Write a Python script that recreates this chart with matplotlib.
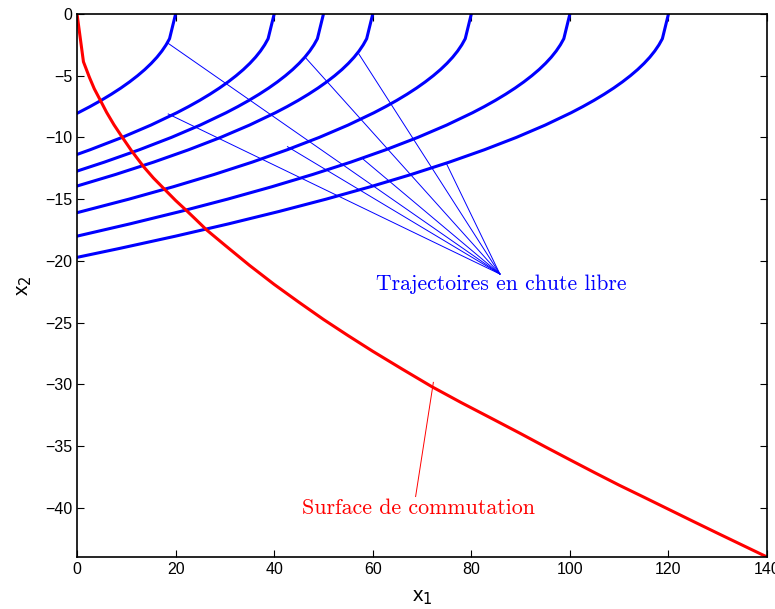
"""Free-fall trajectories and the switching surface in the (x1, x2) phase plane."""
import matplotlib
matplotlib.use("Agg")
import matplotlib.pyplot as plt

# --- Data ---
# free-fall trajectories, one per starting height x1 (x2 = 0 at the top)
x2_steps = [0, -2, -2.5, -3, -3.5, -4, -4.5, -5, -5.5, -6, -6.5, -7, -7.5, -8, -9, -10,
            -11, -12, -13, -14, -15, -16, -17, -18, -19]

traj_x1 = {
    20: [20, 18.77, 18.07, 17.22, 16.22, 15.06, 13.75, 12.28, 10.66, 8.89, 6.96, 4.88,
         2.64, 0],
    40: [40, 38.77, 38.07, 37.22, 36.22, 35.06, 33.75, 32.28, 30.66, 28.89, 26.96, 24.88,
         22.64, 20.25, 15.0, 9.14, 2.65, 0],
    50: [50, 48.77, 48.07, 47.22, 46.22, 45.06, 43.75, 42.28, 40.66, 38.89, 36.96, 34.88,
         32.64, 30.25, 25.0, 19.14, 12.65, 5.56, 0],
    60: [60, 58.77, 58.07, 57.22, 56.22, 55.06, 53.75, 52.28, 50.66, 48.89, 46.96, 44.88,
         42.64, 40.25, 35.0, 29.14, 22.65, 15.56, 7.84, 0],
    80: [80, 78.77, 78.07, 77.22, 76.22, 75.06, 73.75, 72.28, 70.66, 68.89, 66.96, 64.88,
         62.64, 60.25, 55.0, 49.14, 42.65, 35.56, 27.84, 19.51, 10.56, 0],
    100: [100, 98.77, 98.07, 97.22, 96.22, 95.06, 93.75, 92.28, 90.66, 88.89, 86.96, 84.88,
          82.64, 80.25, 75.0, 69.14, 62.65, 55.56, 47.84, 39.51, 30.56, 20.99, 10.8, 0],
    120: [120, 118.77, 118.07, 117.22, 116.22, 115.06, 113.75, 112.28, 110.66, 108.89,
          106.96, 104.88, 102.64, 100.25, 95.0, 89.14, 82.65, 75.56, 67.84, 59.51, 50.56,
          40.99, 30.8, 20.0, 8.58, 0],
}
# x2 where each trajectory reaches x1 = 0
traj_end_x2 = {20: -8.05, 40: -11.38, 50: -12.73, 60: -13.94, 80: -16.1, 100: -18.0,
               120: -19.72}

# switching surface
surf_x1 = [0, 1.3, 2.5, 3.5, 4.7, 6, 7.5, 9.1, 11, 13.5, 15.5, 17.9, 20, 22.3, 24, 26.3,
           30, 35, 40, 45, 50, 55, 60, 66, 72, 78, 84.5, 90, 95, 100, 105, 110, 115, 120,
           125, 130, 135, 140]
surf_x2 = [0, -3.87, -5.12, -6.06, -6.97, -7.97, -8.98, -9.94, -11.05, -12.37, -13.29,
           -14.26, -15.11, -15.96, -16.61, -17.5, -18.73, -20.37, -21.91, -23.35, -24.75,
           -26.06, -27.33, -28.78, -30.2, -31.5, -32.85, -34.0, -35.07, -36.12, -37.16,
           -38.18, -39.15, -40.13, -41.11, -42.08, -43.04, -44.0]

# annotation pointer ends
traj_label = "Trajectoires en chute libre"
traj_apex = (85.8, -21.07)
traj_targets_x1 = [18.5, 18.5, 46.5, 57.1, 42.7, 58.1, 75.0]
traj_targets_x2 = [-2.38, -8.1, -3.6, -3.19, -10.75, -11.78, -12.16]

surf_label = "Surface de commutation"
surf_pointer_x1 = [72.3, 68.7]
surf_pointer_x2 = [-29.85, -39.1]

x_ticks = list(range(0, 141, 20))
y_ticks = list(range(0, -41, -5))

# --- Plot ---
fig = plt.figure(figsize=(7.75, 6.09), dpi=100)
ax = fig.add_axes([0.0994, 0.0854, 0.8903, 0.8916])

for c, xs in traj_x1.items():
    ys = x2_steps[:len(xs) - 1] + [traj_end_x2[c]]
    ax.plot(xs, ys, color="#0000ff", linewidth=2.2, solid_joinstyle="round")
ax.plot(surf_x1, surf_x2, color="#ff0000", linewidth=2.2, solid_joinstyle="round")

for tx, ty in zip(traj_targets_x1, traj_targets_x2):
    ax.plot([traj_apex[0], tx], [traj_apex[1], ty], color="#0000ff", linewidth=0.7)
ax.plot(surf_pointer_x1, surf_pointer_x2, color="#ff0000", linewidth=0.7)

ax.text(86.1, -22.37, traj_label, color="#0000ff", family="cmr10", fontsize=15.6,
        ha="center", va="baseline")
ax.text(69.2, -40.52, surf_label, color="#ff0000", family="cmr10", fontsize=15.8,
        ha="center", va="baseline")

ax.set_xlim(0, 140)
ax.set_ylim(-44, 0)
ax.set_xticks(x_ticks)
ax.set_yticks(y_ticks)
ax.tick_params(direction="in", length=5, width=0.8, top=True, right=True,
               labelsize=11.5)
for lbl in ax.get_xticklabels() + ax.get_yticklabels():
    lbl.set_family("Liberation Sans")
for sp in ax.spines.values():
    sp.set_linewidth(1.2)

ax.set_xlabel("x$_1$", fontsize=15, family="Liberation Sans", labelpad=8)
ax.set_ylabel("x$_2$", fontsize=15, family="Liberation Sans", labelpad=8)

fig.savefig("out.png", dpi=100)
